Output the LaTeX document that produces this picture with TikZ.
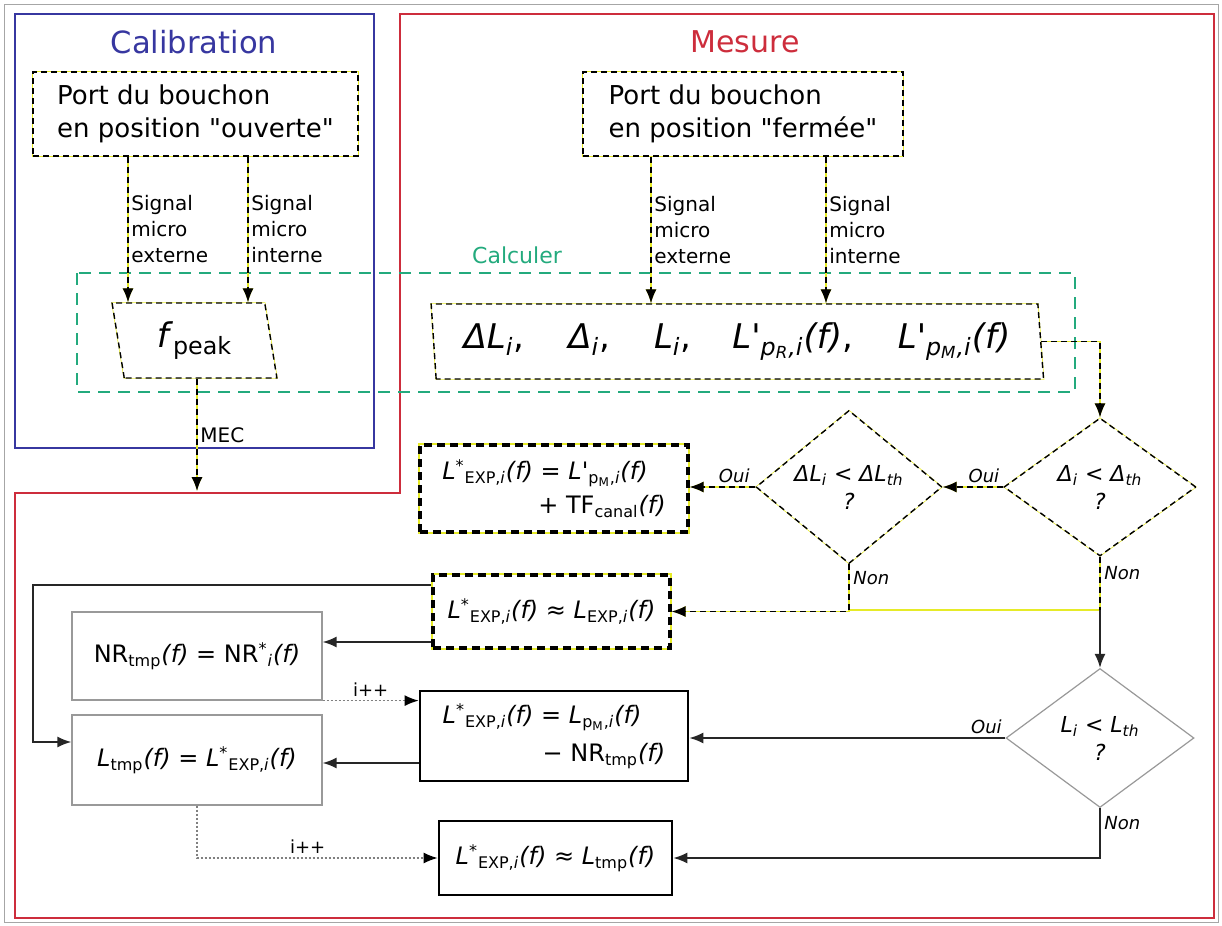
\documentclass[tikz,border=0pt]{standalone}
\usepackage{fontspec}
\setmainfont{DejaVu Sans}[Ligatures=TeXOff]
\usetikzlibrary{shapes.geometric,arrows.meta}
\definecolor{calblue}{RGB}{55,55,160}
\definecolor{mesred}{RGB}{205,45,60}
\definecolor{calcgreen}{RGB}{35,170,125}
\definecolor{ylw}{RGB}{230,235,40}
\newcommand{\fsz}[2]{\fontsize{#1}{#2}\selectfont}
\newcommand{\fofx}{\textit{(f)}}
\newcommand{\Lexp}{\textit{L}\textsuperscript{*}\textsubscript{EXP,\textit{i}}}
\begin{document}
\begin{tikzpicture}[x=0.5pt,y=-0.5pt,
  >={Latex[length=7pt,width=5.5pt]},
  ybthin/.style={draw=black, line width=0.7pt, dash pattern=on 3pt off 2pt, preaction={draw=ylw, solid, line width=0.7pt}},
  ybthick/.style={draw=black, line width=1.6pt, dash pattern=on 4pt off 2.5pt, preaction={draw=ylw, solid, line width=1.6pt}},
  blkbox/.style={draw=black, line width=1.3pt},
  graybox/.style={draw=gray!80, line width=0.6pt},
  ybarrow/.style={ybthin, ->},
  blkarrow/.style={draw=black!85, line width=0.9pt, ->},
  dotarrow/.style={draw=gray, line width=0.8pt, dash pattern=on 1pt off 1pt, -{Latex[length=7pt,width=5.5pt,black]}},
  lbl/.style={font=\fsz{10}{13}, align=left, inner sep=1.5pt},
  ans/.style={font=\fsz{9}{11}\itshape, inner sep=2pt},
  inc/.style={font=\fsz{9}{11}, inner sep=2pt},
  topbox/.style={ybthin, fill=white, minimum height=42pt, align=left, font=\fsz{13}{16.5}},
]
\useasboundingbox (0,0) rectangle (1222,926);
\draw[gray!70, line width=0.5pt] (4,4) rectangle (1218,922);
\draw[calblue, line width=1.1pt] (15,14) rectangle (374,448);
\draw[mesred, line width=1.1pt] (400,14) -- (1214,14) -- (1214,918) -- (15,918) -- (15,493) -- (400,493) -- cycle;
\draw[calcgreen, line width=0.8pt, dash pattern=on 6pt off 4pt] (77,273) rectangle (1075,392);

\node[text=calblue, font=\fsz{15.3}{18}] (caltitle) at (194,42) {Calibration};
\node[text=mesred, font=\fsz{15}{18}] (mestitle) at (745,42) {Mesure};
\node[text=calcgreen, font=\fsz{11}{13}] (calctitle) at (517,255) {Calculer};

\node[topbox, minimum width=162.5pt] (calTop) at (195.5,114) {Port du bouchon\\en position "ouverte"};
\node[topbox, minimum width=160pt] (mesTop) at (743,114) {Port du bouchon\\en position "fermée"};

\node[trapezium, trapezium left angle=100, trapezium right angle=80, trapezium stretches=true, ybthin, fill=white, minimum width=82.5pt, minimum height=37.5pt, inner sep=0pt, font=\fsz{17}{20}] (fpeak) at (194.5,340.5) {\textit{f}\textsubscript{peak}};
\node[trapezium, trapezium left angle=97, trapezium right angle=82, trapezium stretches=true, ybthin, fill=white, minimum width=307pt, minimum height=37.5pt, inner sep=0pt, font=\fsz{17}{20}] (bigpar) at (737,341.5) {\textit{ΔL\textsubscript{i}},\hspace{22pt}\textit{Δ\textsubscript{i}},\hspace{22pt}\textit{L\textsubscript{i}},\hspace{20.5pt}\textit{L'\textsubscript{p\textsubscript{R},i}(f)},\hspace{22.5pt}\textit{L'\textsubscript{p\textsubscript{M},i}(f)}};

\node[diamond, ybthin, fill=white, minimum width=96pt, minimum height=69pt, inner sep=0pt, align=center, font=\fsz{11}{14}\itshape] (d1) at (1100,487) {Δ\textsubscript{i} < Δ\textsubscript{th}\\?};
\node[diamond, ybthin, fill=white, minimum width=93pt, minimum height=69pt, inner sep=0pt, align=center, font=\fsz{11}{14}\itshape] (d2) at (849,487) {ΔL\textsubscript{i} < ΔL\textsubscript{th}\\?};
\node[diamond, graybox, fill=white, minimum width=94pt, minimum height=69.5pt, inner sep=0pt, align=center, font=\fsz{11}{14}\itshape] (d3) at (1100,738) {L\textsubscript{i} < L\textsubscript{th}\\?};

\node[ybthick, fill=white, minimum width=134pt, minimum height=43.5pt, align=left, font=\fsz{12}{17}] (boxA) at (554,488.5) {\Lexp\fofx{} = \textit{L'}\textsubscript{p\textsubscript{M},\textit{i}}\fofx\\\hspace*{48pt}+ TF\textsubscript{canal}\fofx};
\node[ybthick, fill=white, minimum width=118.5pt, minimum height=36.5pt, font=\fsz{12}{16}] (boxB) at (551.5,611.5) {\Lexp\fofx{} ≈ \textit{L}\textsubscript{EXP,\textit{i}}\fofx};
\node[graybox, fill=white, minimum width=125pt, minimum height=44pt, font=\fsz{12}{16}] (NR) at (197,656) {NR\textsubscript{tmp}\fofx{} = NR\textsuperscript{*}\textsubscript{\textit{i}}\fofx};
\node[graybox, fill=white, minimum width=125pt, minimum height=45pt, font=\fsz{12}{16}] (Ltmp) at (197,760) {\textit{L}\textsubscript{tmp}\fofx{} = \Lexp\fofx};
\node[blkbox, fill=white, minimum width=134pt, minimum height=45pt, align=left, font=\fsz{12}{19}] (boxC) at (554,736) {\Lexp\fofx{} = \textit{L}\textsubscript{p\textsubscript{M},\textit{i}}\fofx\\\hspace*{50pt}− NR\textsubscript{tmp}\fofx};
\node[blkbox, fill=white, minimum width=116.5pt, minimum height=37pt, font=\fsz{12}{16}] (boxD) at (555.5,858) {\Lexp\fofx{} ≈ \textit{L}\textsubscript{tmp}\fofx};

\coordinate (x128) at (128,0);
\coordinate (x248) at (248,0);
\coordinate (x651) at (651,0);
\coordinate (x826) at (826,0);
\coordinate (mecEnd) at (197,491);
\coordinate (j1) at (1100,610);
\coordinate (L1) at (33,585);
\coordinate (L2) at (33,742);
\coordinate (y642) at (0,642);
\coordinate (y763) at (0,763);

\draw[ybarrow] (calTop.south -| x128) -- (fpeak.north -| x128);
\path (calTop.south -| x128) -- (fpeak.north -| x128) node[lbl, midway, right] {Signal\\micro\\externe};
\draw[ybarrow] (calTop.south -| x248) -- (fpeak.north -| x248);
\path (calTop.south -| x248) -- (fpeak.north -| x248) node[lbl, midway, right] {Signal\\micro\\interne};
\draw[ybarrow] (mesTop.south -| x651) -- (bigpar.north -| x651);
\path (mesTop.south -| x651) -- (bigpar.north -| x651) node[lbl, midway, right] {Signal\\micro\\externe};
\draw[ybarrow] (mesTop.south -| x826) -- (bigpar.north -| x826);
\path (mesTop.south -| x826) -- (bigpar.north -| x826) node[lbl, midway, right] {Signal\\micro\\interne};

\draw[ybarrow] (fpeak.south -| mecEnd) -- (mecEnd);
\path (fpeak.south -| mecEnd) -- (mecEnd) node[lbl, midway, right] {MEC};

\draw[ybarrow] (bigpar.right side) -| (d1.north);
\draw[ybarrow] (d1.west) -- (d2.east);
\path (d1.west) -- (d2.east) node[ans, pos=0.32, above] {Oui};
\draw[ybarrow] (d2.west) -- (boxA.east |- d2.west);
\path (d2.west) -- (boxA.east |- d2.west) node[ans, pos=0.32, above] {Oui};
\draw[ylw, line width=1pt] (d2.south |- j1) -- (j1);
\draw[ybarrow] (d2.south) |- (boxB.east);
\path (d2.south) |- (boxB.east) node[ans, pos=0.15, right] {Non};
\draw[ybthin] (d1.south) -- (j1);
\path (d1.south) -- (j1) node[ans, pos=0.3, right] {Non};
\draw[blkarrow] (j1) -- (d3.north);

\draw[blkarrow] (boxB.west |- L1) -- (L1) -- (L2) -- (Ltmp.west |- L2);
\draw[blkarrow] (boxB.west |- y642) -- (NR.east |- y642);
\draw[dotarrow] (NR.south east) -- (boxC.west |- NR.south east);
\path (NR.south east) -- (boxC.west |- NR.south east) node[inc, midway, above] {i++};
\draw[blkarrow] (boxC.west |- y763) -- (Ltmp.east |- y763);
\draw[blkarrow] (d3.west) -- (boxC.east |- d3.west);
\path (d3.west) -- (boxC.east |- d3.west) node[ans, pos=0.06, above] {Oui};
\draw[blkarrow] (d3.south) |- (boxD.east);
\path (d3.south) |- (boxD.east) node[ans, pos=0.15, right] {Non};
\draw[dotarrow] (Ltmp.south) |- (boxD.west);
\path (Ltmp.south) |- (boxD.west) node[inc, pos=0.73, above] {i++};
\end{tikzpicture}
\end{document}
